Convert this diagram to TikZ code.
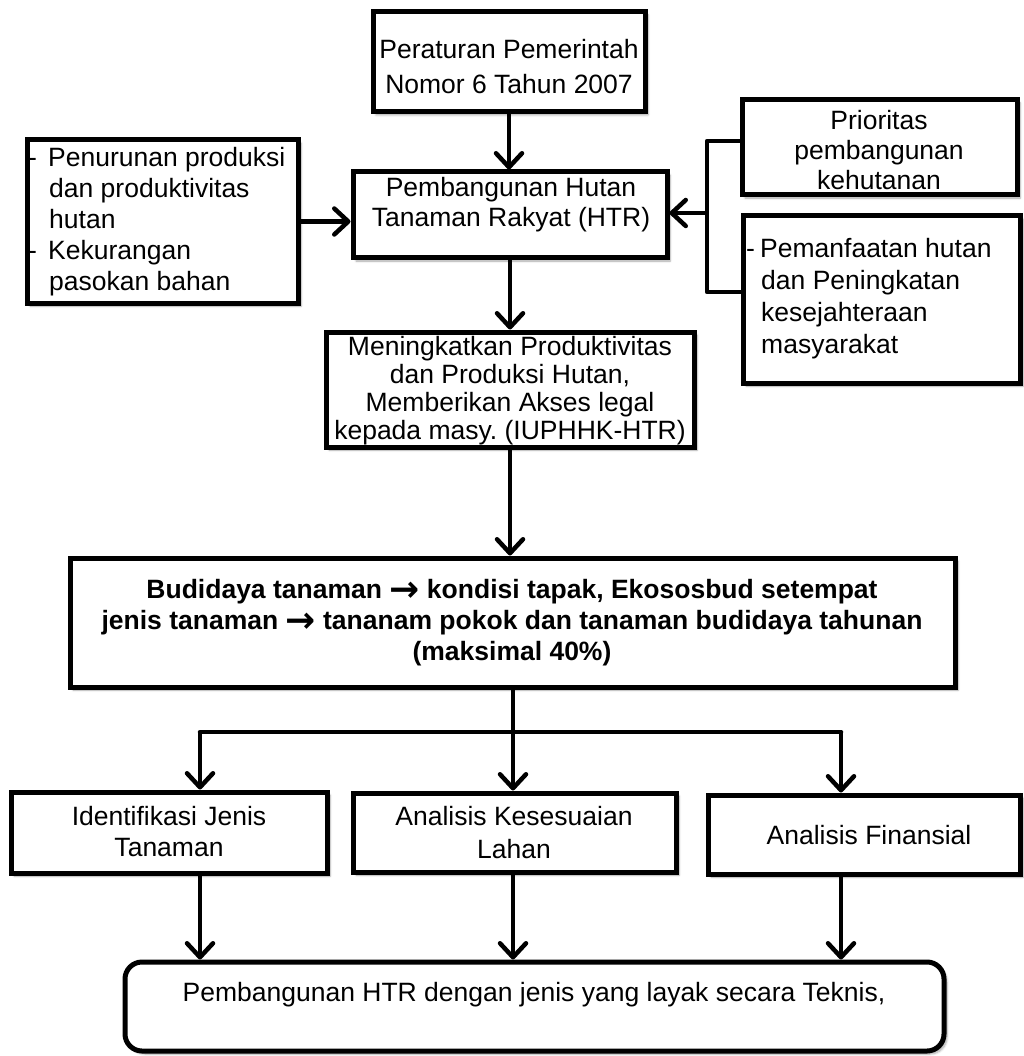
\documentclass[tikz,border=0pt]{standalone}
\usepackage{fontspec}
\setmainfont{Liberation Sans}
\newfontfamily\arrowfont{DejaVu Sans}
\frenchspacing
\usetikzlibrary{arrows.meta,shadows.blur}
\newcommand{\thickarrow}{\raisebox{-2.5pt}{\fontsize{36}{31}\selectfont\arrowfont\bfseries →}}
\begin{document}
\begin{tikzpicture}[x=1pt,y=-1pt,
  box/.style={draw=black, line width=5pt, fill=white, rectangle, inner sep=0pt,
    blur shadow={shadow xshift=3pt, shadow yshift=-3pt, shadow blur steps=6, shadow opacity=35}},
  txt/.style={inner sep=0pt, align=center},
  fs/.style={font=\fontsize{26.5}{#1}\selectfont},
  bfs/.style={font=\fontsize{26.5}{#1}\selectfont\bfseries},
  arr/.style={line width=4.5pt, -{Straight Barb[length=14pt,width=26pt,round]}},
  conn/.style={line width=4.5pt, line cap=round, line join=round}
]
\useasboundingbox (0,0) rectangle (1023,1056);

% boxes
\node[box, minimum width=272pt, minimum height=100pt] (top) at (509,62) {};
\node[box, minimum width=314pt, minimum height=86pt] (htr) at (510,215) {};
\node[box, minimum width=271pt, minimum height=163pt] (left) at (162.5,221.5) {};
\node[box, minimum width=275pt, minimum height=95pt] (r1) at (879.5,147.5) {};
\node[box, minimum width=277pt, minimum height=167pt] (r2) at (881.5,299.5) {};
\node[box, minimum width=368pt, minimum height=115pt] (mid) at (510,389.5) {};
\node[box, minimum width=885pt, minimum height=129pt] (big) at (512.5,622.5) {};
\node[box, minimum width=316pt, minimum height=81pt] (a1) at (169,832.5) {};
\node[box, minimum width=323pt, minimum height=79pt] (a2) at (514.5,832.5) {};
\node[box, minimum width=312pt, minimum height=79pt] (a3) at (864,834.5) {};
\node[box, rounded corners=17pt, minimum width=819pt, minimum height=89pt] (bot) at (534.5,1006.5) {};

% texts
\node[txt, fs=35] (topt) at (509,67) {Peraturan Pemerintah\\Nomor 6 Tahun 2007};
\node[txt, fs=30] (htrt) at (511,205) {Pembangunan Hutan\\Tanaman Rakyat (HTR)};
\node[txt, fs=31, align=left, anchor=west] (leftt) at (28,222)
  {\makebox[20pt][l]{-}Penurunan produksi\\
   \hspace*{21pt}dan produktivitas\\
   \hspace*{21pt}hutan\\
   \makebox[20pt][l]{-}Kekurangan\\
   \hspace*{21pt}pasokan bahan};
\node[txt, fs=30] (r1t) at (879,150) {Prioritas\\pembangunan\\kehutanan};
\node[txt, fs=32, align=left, anchor=west] (r2t) at (746,299)
  {\makebox[14pt][l]{-}Pemanfaatan hutan\\
   \hspace*{15pt}dan Peningkatan\\
   \hspace*{15pt}kesejahteraan\\
   \hspace*{15pt}masyarakat};
\node[txt, fs=28] (midt) at (510,391) {Meningkatkan Produktivitas\\dan Produksi Hutan,\\Memberikan Akses legal\\kepada masy. (IUPHHK-HTR)};
\node[txt, bfs=31] (bigt) at (512,623)
  {Budidaya tanaman \thickarrow{} kondisi tapak, Ekososbud setempat\\
   jenis tanaman \thickarrow{} tananam pokok dan tanaman budidaya tahunan\\
   (maksimal 40\%)};
\node[txt, fs=31] (a1t) at (169,832) {Identifikasi Jenis\\Tanaman};
\node[txt, fs=33] (a2t) at (514,833) {Analisis Kesesuaian\\Lahan};
\node[txt, fs=31] (a3t) at (869,835) {Analisis Finansial};
\node[txt, fs=31] (bott) at (534,995) {Pembangunan HTR dengan jenis yang layak secara Teknis,};

% connectors
\draw[arr] (top.south) -- (top.south |- htr.north);
\draw[arr] (left.east) -- (left.east -| htr.west);
\coordinate (bt) at (707,141);
\coordinate (bb) at (707,292);
\coordinate (bm) at (707,213);
\draw[conn] (r1.west |- bt) -- (bt) -- (bb) -- (r2.west |- bb);
\draw[arr] (bm) -- (bm -| htr.east);
\draw[arr] (htr.south) -- (htr.south |- mid.north);
\draw[arr] (mid.south) -- (mid.south |- big.north);
\coordinate (sp) at (513,732);
\coordinate (s1) at (200,732);
\coordinate (s3) at (841,732);
\draw[conn] (big.south -| sp) -- (sp);
\draw[conn] (s1) -- (s3);
\draw[arr] (s1) -- (s1 |- a1.north);
\draw[arr] (sp) -- (sp |- a2.north);
\draw[arr] (s3) -- (s3 |- a3.north);
\draw[arr] (a1.south -| s1) -- (s1 |- bot.north);
\draw[arr] (a2.south -| sp) -- (sp |- bot.north);
\draw[arr] (a3.south -| s3) -- (s3 |- bot.north);
\end{tikzpicture}
\end{document}
